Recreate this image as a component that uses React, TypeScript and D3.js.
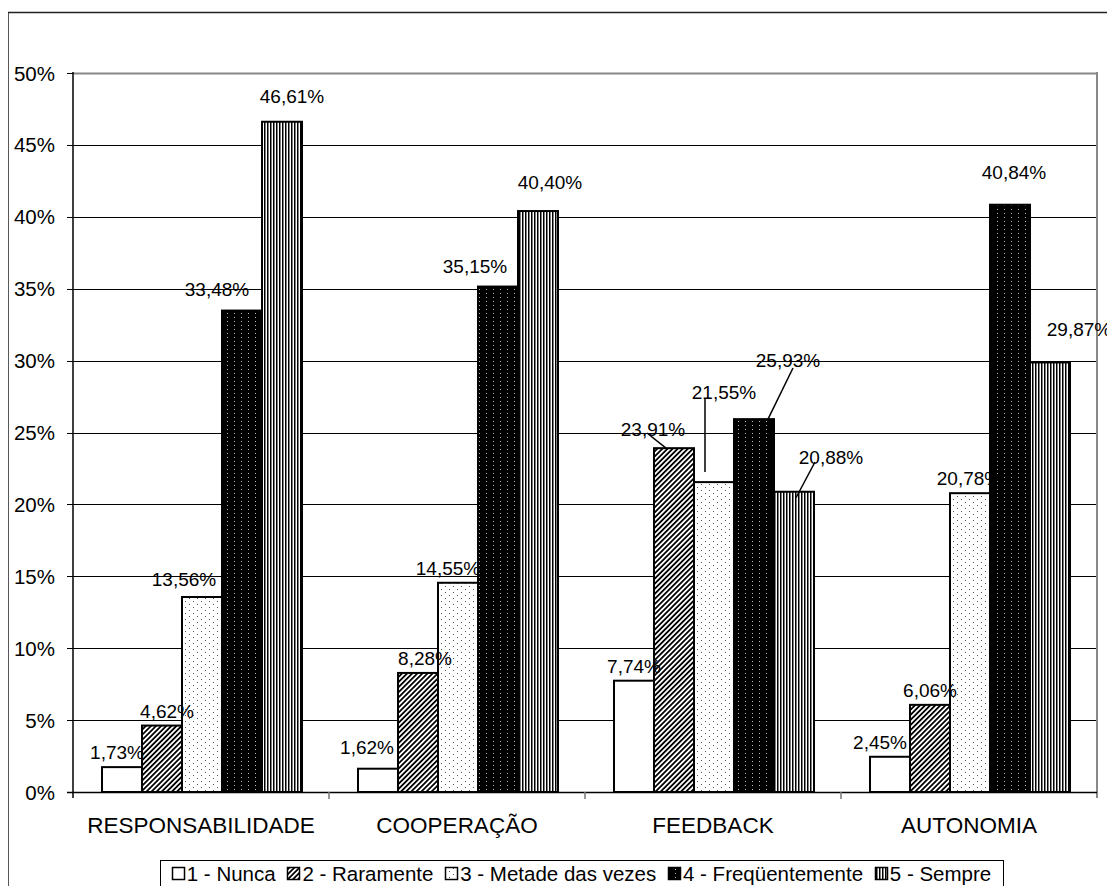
import React, { useEffect, useRef } from "react";
import * as d3 from "d3";

const categories = ["RESPONSABILIDADE", "COOPERAÇÃO", "FEEDBACK", "AUTONOMIA"];
const seriesNames = ["1 - Nunca", "2 - Raramente", "3 - Metade das vezes", "4 - Freqüentemente", "5 - Sempre"];
const nunca = [1.73, 1.62, 7.74, 2.45];
const raramente = [4.62, 8.28, 23.91, 6.06];
const metade = [13.56, 14.55, 21.55, 20.78];
const frequentemente = [33.48, 35.15, 25.93, 40.84];
const sempre = [46.61, 40.4, 20.88, 29.87];
const yTicks = [0, 5, 10, 15, 20, 25, 30, 35, 40, 45, 50];

// label placement nudges (layout only): [series][category] -> [dx, dy] relative to default
const labelNudge: [number, number][][] = [
  [[-5, 0], [-11, -7], [0, 0], [-10, 0]],
  [[5, 0], [7, 0], [-21, -4], [0, 0]],
  [[-18, -3], [-10, 0], [10, -75], [-1, 0]],
  [[-25, -7], [-23, -6], [34, -44], [4, -18]],
  [[10, -11], [12, -14], [37, -20], [29, -18]],
];
// leader lines (layout only): [series, category, x1, y1]
const leaders: [number, number, number, number][] = [
  [1, 2, 647, 433],
  [2, 2, 705, 398],
  [3, 2, 793, 368],
  [4, 2, 815, 462],
];

const fmt = (v: number) => v.toFixed(2).replace(".", ",") + "%";

export default function App() {
  const ref = useRef<SVGSVGElement>(null);
  useEffect(() => {
    const svg = d3.select(ref.current);
    svg.selectAll("*").remove();
    const W = 1115, H = 894;
    const font = "'Liberation Sans', Arial, sans-serif";
    const left = 73, right = 1097, top = 73, bottom = 792;
    const series = [nunca, raramente, metade, frequentemente, sempre];

    const defs = svg.append("defs");
    const p2 = defs.append("pattern").attr("id", "p2").attr("patternUnits", "userSpaceOnUse")
      .attr("width", 3.6).attr("height", 4).attr("patternTransform", "rotate(45)");
    p2.append("rect").attr("width", 3.6).attr("height", 4).attr("fill", "#fff");
    p2.append("rect").attr("width", 1.8).attr("height", 4).attr("fill", "#000");

    const p3 = defs.append("pattern").attr("id", "p3").attr("patternUnits", "userSpaceOnUse")
      .attr("width", 8).attr("height", 6);
    p3.append("rect").attr("width", 8).attr("height", 6).attr("fill", "#fff");
    p3.append("rect").attr("x", 1).attr("y", 1).attr("width", 1).attr("height", 1).attr("fill", "#555");
    p3.append("rect").attr("x", 5).attr("y", 4).attr("width", 1).attr("height", 1).attr("fill", "#555");

    const p4 = defs.append("pattern").attr("id", "p4").attr("patternUnits", "userSpaceOnUse")
      .attr("width", 7).attr("height", 4);
    p4.append("rect").attr("width", 7).attr("height", 4).attr("fill", "#000");
    p4.append("rect").attr("x", 3).attr("y", 1).attr("width", 1).attr("height", 1).attr("fill", "#bbb");

    const p5 = defs.append("pattern").attr("id", "p5").attr("patternUnits", "userSpaceOnUse")
      .attr("width", 3).attr("height", 4);
    p5.append("rect").attr("width", 3).attr("height", 4).attr("fill", "#fff");
    p5.append("rect").attr("width", 1.5).attr("height", 4).attr("fill", "#000");

    const fills = ["#fff", "url(#p2)", "url(#p3)", "url(#p4)", "url(#p5)"];

    svg.append("rect").attr("width", W).attr("height", H).attr("fill", "#fff");
    // outer chart border
    svg.append("path").attr("d", `M8,${H + 2} L8,12.5 L1113,12.5`).attr("fill", "none")
      .attr("stroke", "#222").attr("stroke-width", 1.5);

    const y = d3.scaleLinear().domain([0, 50]).range([bottom, top]);
    const x0 = d3.scaleBand().domain(categories).range([left, right]);
    const x1 = d3.scaleBand().domain(seriesNames).range([29, 256 - 27]);

    // gridlines
    svg.append("g").selectAll("line").data(yTicks.filter(t => t > 0)).join("line")
      .attr("x1", left).attr("x2", right)
      .attr("y1", d => Math.round(y(d)) + 0.5).attr("y2", d => Math.round(y(d)) + 0.5)
      .attr("stroke", d => (d === 50 ? "#888" : "#000")).attr("stroke-width", d => (d === 50 ? 2 : 1));
    // right border of plot
    svg.append("line").attr("x1", right).attr("x2", right).attr("y1", top - 1).attr("y2", bottom + 6)
      .attr("stroke", "#888").attr("stroke-width", 2);

    // bars
    const gBars = svg.append("g");
    series.forEach((vals, si) => {
      gBars.append("g").selectAll("rect").data(vals).join("rect")
        .attr("x", (_, ci) => (x0(categories[ci]) as number) + (x1(seriesNames[si]) as number))
        .attr("width", x1.bandwidth())
        .attr("y", d => y(d))
        .attr("height", d => bottom - y(d))
        .attr("fill", fills[si]).attr("stroke", "#000").attr("stroke-width", 2);
    });

    // axes lines
    svg.append("line").attr("x1", left).attr("x2", left).attr("y1", top - 1).attr("y2", bottom + 6)
      .attr("stroke", "#000").attr("stroke-width", 1.5);
    svg.append("line").attr("x1", left - 6).attr("x2", right).attr("y1", bottom + 0.5).attr("y2", bottom + 0.5)
      .attr("stroke", "#000").attr("stroke-width", 1.5);
    // y ticks
    const yg = svg.append("g");
    yg.selectAll("line").data(yTicks).join("line")
      .attr("x1", left - 6).attr("x2", left)
      .attr("y1", d => Math.round(y(d)) + 0.5).attr("y2", d => Math.round(y(d)) + 0.5)
      .attr("stroke", "#000").attr("stroke-width", 1);
    yg.selectAll("text").data(yTicks).join("text")
      .attr("x", 55).attr("y", d => y(d) + 7.5)
      .attr("text-anchor", "end").attr("font-family", font).attr("font-size", 20.5)
      .text(d => `${d}%`);
    // category ticks
    svg.append("g").selectAll("line").data(categories.slice(1)).join("line")
      .attr("x1", d => x0(d) as number).attr("x2", d => x0(d) as number)
      .attr("y1", bottom).attr("y2", bottom + 7).attr("stroke", "#777").attr("stroke-width", 1.5);
    svg.append("g").selectAll("text").data(categories).join("text")
      .attr("x", d => (x0(d) as number) + x0.bandwidth() / 2).attr("y", 833)
      .attr("text-anchor", "middle").attr("font-family", font).attr("font-size", 22.5)
      .text(d => d);

    // leader lines
    svg.append("g").selectAll("line").data(leaders).join("line")
      .attr("x1", d => d[2]).attr("y1", d => d[3])
      .attr("x2", d => {
        const [si, ci] = d;
        const bx = (x0(categories[ci]) as number) + (x1(seriesNames[si]) as number);
        if (si === 2) return d[2];
        return si === 1 ? bx + 12 : si === 3 ? bx + 34 : bx + 22;
      })
      .attr("y2", d => {
        const [si, ci] = d;
        const v = series[si][ci];
        return si === 2 ? y(v) - 10 : y(v) + (si === 4 ? 6 : 0);
      })
      .attr("stroke", "#000").attr("stroke-width", 1.5);

    // data labels
    const gl = svg.append("g");
    series.forEach((vals, si) => {
      gl.append("g").selectAll("text").data(vals).join("text")
        .attr("x", (_, ci) => (x0(categories[ci]) as number) + (x1(seriesNames[si]) as number) + x1.bandwidth() / 2 + labelNudge[si][ci][0])
        .attr("y", (d, ci) => y(d) - 8 + labelNudge[si][ci][1])
        .attr("text-anchor", "middle").attr("font-family", font).attr("font-size", 19)
        .text(d => fmt(d));
    });

    // legend
    const lg = svg.append("g");
    const lx0 = 160, lx1 = 1003, ly0 = 860, ly1 = 900;
    lg.append("rect").attr("x", lx0 + 0.5).attr("y", ly0 + 0.5).attr("width", lx1 - lx0).attr("height", ly1 - ly0)
      .attr("fill", "#fff").attr("stroke", "#000").attr("stroke-width", 1);
    const texts = lg.selectAll("text").data(seriesNames).join("text")
      .attr("font-family", font).attr("font-size", 20.5).attr("y", 881).text(d => d);
    const widths: number[] = [];
    texts.each(function () { widths.push((this as SVGTextElement).getComputedTextLength()); });
    const sq = 12, gapT = 3;
    const total = widths.reduce((a, b) => a + b, 0) + seriesNames.length * (sq + gapT);
    const gap = (lx1 - lx0 - total) / (seriesNames.length + 1);
    let cx = lx0 + gap;
    seriesNames.forEach((_, i) => {
      lg.append("rect").attr("x", Math.round(cx) + 0.5).attr("y", 867.5).attr("width", sq).attr("height", sq)
        .attr("fill", fills[i]).attr("stroke", "#000").attr("stroke-width", 1.5);
      d3.select(texts.nodes()[i]).attr("x", cx + sq + gapT);
      cx += sq + gapT + widths[i] + gap;
    });
  }, []);
  return <svg ref={ref} width={1115} height={894} style={{ display: "block", margin: "-8px" }} />;
}
